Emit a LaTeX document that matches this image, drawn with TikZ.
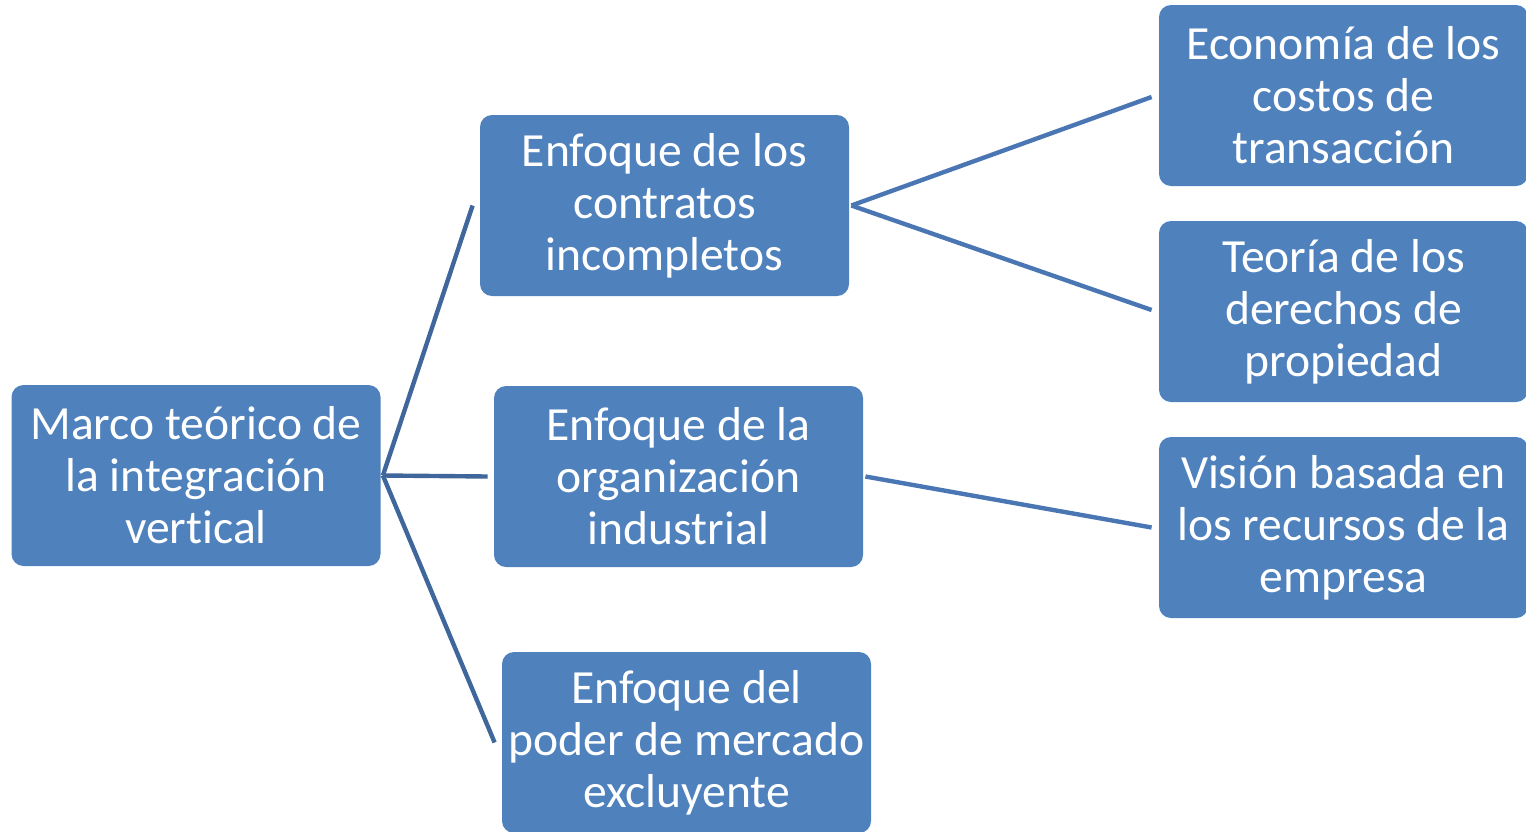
\documentclass[tikz,border=0pt]{standalone}
\usepackage{fontspec}
\setmainfont{Carlito}[Ligatures={NoCommon,NoRare,NoContextual}]
\usepackage{tikz}
\usetikzlibrary{arrows.meta}
\usetikzlibrary{backgrounds}
\definecolor{boxblue}{HTML}{4F81BD}
\definecolor{linkdark}{HTML}{3F679B}
\definecolor{linkblue}{HTML}{4A77B3}

\begin{document}
\begin{tikzpicture}[x=0.5pt,y=-0.5pt]
	\useasboundingbox (0,0) rectangle (1526,831);
	\clip (0,0) rectangle (1526,831);
	\begin{scope}[every node/.style={rectangle,rounded corners=6pt,fill=boxblue,text=white,
	              minimum width=184.5pt,minimum height=90.5pt,inner sep=0pt,align=center,
	              font=\fontsize{23.8}{26}\selectfont}]
		\node (1) at (196,475.5) {Marco teórico de\\la integración\\vertical};
		\node (2) at (664.5,205.5) {Enfoque de los\\contratos\\incompletos};
		\node (3) at (678.5,476.5) {Enfoque de la\\organización\\industrial};
		\node (4) at (686.5,742.5) {Enfoque del\\poder de mercado\\excluyente};
		\node (5) at (1343.5,95.5) {Economía de los\\costos de\\transacción};
		\node (6) at (1343.5,311.5) {Teoría de los\\derechos de\\propiedad};
		\node (7) at (1343.5,527.5) {Visión basada en\\los recursos de la\\empresa};
	\end{scope}

	\begin{scope}[every edge/.style={draw=linkdark,line width=2.2pt}]
		\path ([xshift=1pt]1.east) edge ([xshift=-3.5pt]2.west);
		\path ([xshift=1pt]1.east) edge ([xshift=-3pt]3.west);
		\path ([xshift=1pt]1.east) edge ([xshift=-3.5pt]4.west);
	\end{scope}

	\begin{scope}[every edge/.style={draw=linkblue,line width=2.2pt}]
		\path ([xshift=1pt]2.east) edge ([xshift=-3.5pt,yshift=-0.75pt]5.west);
		\path ([xshift=1pt]2.east) edge ([xshift=-3.5pt,yshift=0.75pt]6.west);
		\path ([xshift=1pt]3.east) edge ([xshift=-3.5pt]7.west);
	\end{scope}
\end{tikzpicture}
\end{document}
